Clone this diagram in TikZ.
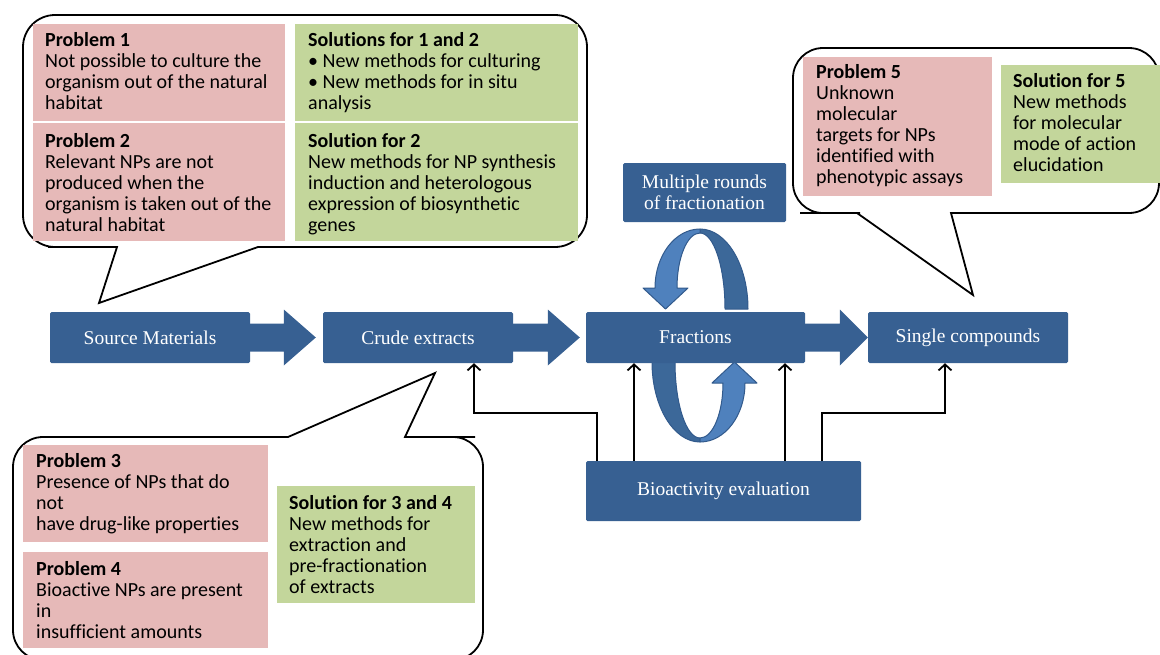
\documentclass[tikz,border=0pt]{standalone}
\usepackage{fontspec}
\setmainfont{Carlito}[Ligatures=NoCommon]
\newfontfamily\boxserif{Liberation Serif}
\usetikzlibrary{arrows.meta,calc}
\definecolor{boxblue}{HTML}{376092}
\definecolor{pinkc}{HTML}{E6B9B8}
\definecolor{greenc}{HTML}{C3D69B}
\definecolor{loopl}{HTML}{4F81BD}
\definecolor{loopd}{HTML}{3C6899}
\definecolor{loopedge}{HTML}{325A8C}
\newcommand\blockarr[4]{% source, target, gap before target, head length
  \fill[boxblue] let \p1=(#1.east), \p2=(#2.west) in
  (\x1,\y1+14pt) -- (\x2-#3-#4,\y1+14pt) -- (\x2-#3-#4,\y1+28pt) -- (\x2-#3,\y1)
  -- (\x2-#3-#4,\y1-28pt) -- (\x2-#3-#4,\y1-14pt) -- (\x1,\y1-14pt) -- cycle;}
\newcommand\roundloop{%
  \filldraw[fill=loopd, draw=loopedge, line width=1pt, line join=round]
    (748,309) arc[start angle=0, end angle=90, x radius=48pt, y radius=80pt]
    -- (700,233) arc[start angle=90, end angle=0, x radius=25pt, y radius=76pt] -- cycle;
  \filldraw[fill=loopl, draw=loopedge, line width=1pt, line join=round]
    (700,229) arc[start angle=90, end angle=180, x radius=45pt, y radius=59pt]
    -- (643,288) -- (665.5,309) -- (688,288) -- (677,288)
    arc[start angle=180, end angle=90, x radius=23pt, y radius=55pt] -- cycle;}
\begin{document}
\begin{tikzpicture}[x=1pt,y=-1pt,
  bubble/.style={draw=black, line width=1.8pt, fill=white, line join=miter},
  pinkbox/.style={fill=pinkc, inner sep=0pt, anchor=north west},
  greenbox/.style={fill=greenc, inner sep=0pt, anchor=north west},
  txt/.style={font=\fontsize{20}{21}\selectfont, align=left, anchor=north west, inner sep=0pt, text=black},
  bluebox/.style={fill=boxblue, text=white, font=\boxserif\fontsize{19.5}{21}\selectfont, inner sep=0pt, rounded corners=1.5pt, align=center},
  conn/.style={draw=black, line width=1.8pt, -{Straight Barb[length=6pt,width=13pt]}}]
\useasboundingbox (0,0) rectangle (1160,654);

% ---------- callouts ----------
\draw[bubble] (300,247) [rounded corners=32pt] -- (587,247) -- (587,15) -- (23,15) -- (23,247) -- (80,247)
  [sharp corners] -- (117,247) -- (99,303) -- (258,247) -- cycle;
\draw[bubble] (1000,213) [rounded corners=30pt] -- (1159,213) -- (1159,48) -- (793,48) -- (793,213) -- (830,213)
  [sharp corners] -- (857,213) -- (973,295) -- (951,213) -- cycle;
\draw[bubble] (200,437) [rounded corners=30pt] -- (13,437) -- (13,660) -- (483,660) -- (483,437) -- (445,437)
  [sharp corners] -- (405,437) -- (435,373) -- (288,437) -- cycle;

% ---------- problem / solution boxes ----------
\node[pinkbox, minimum width=252pt, minimum height=97pt] (p1box) at (33,24) {};
\node[pinkbox, minimum width=252pt, minimum height=118pt] (p2box) at (33,123) {};
\node[greenbox, minimum width=283pt, minimum height=97pt] (s12box) at (295,24) {};
\node[greenbox, minimum width=283pt, minimum height=118pt] (s2box) at (295,123) {};
\node[pinkbox, minimum width=189pt, minimum height=139pt] (p5box) at (803,57) {};
\node[greenbox, minimum width=159pt, minimum height=118pt] (s5box) at (1001,65) {};
\node[pinkbox, minimum width=245pt, minimum height=97pt] (p3box) at (23,445) {};
\node[pinkbox, minimum width=245pt, minimum height=96pt] (p4box) at (23,552) {};
\node[greenbox, minimum width=198pt, minimum height=117pt] (s34box) at (277,486) {};

\node[txt] (p1t) at (45,31.3) {\strut\textbf{Problem 1}\\Not possible to culture the\\organism out of the natural\\habitat};
\node[txt] (p2t) at (45,132.3) {\strut\textbf{Problem 2}\\Relevant NPs are not\\produced when the\\organism is taken out of the\\natural habitat};
\node[txt] (s12t) at (308,31.3) {\strut\textbf{Solutions for 1 and 2}\\\textbullet{} New methods for culturing\\\textbullet{} New methods for in situ\\analysis};
\node[txt] (s2t) at (308,132.3) {\strut\textbf{Solution for 2}\\New methods for NP synthesis\\induction and heterologous\\expression of biosynthetic\\genes};
\node[txt] (p5t) at (816,63.3) {\strut\textbf{Problem 5}\\Unknown\\molecular\\targets for NPs\\identified with\\phenotypic assays};
\node[txt] (s5t) at (1013,72.3) {\strut\textbf{Solution for 5}\\New methods\\for molecular\\mode of action\\elucidation};
\node[txt] (p3t) at (36,452.3) {\strut\textbf{Problem 3}\\Presence of NPs that do\\not\\have drug-like properties};
\node[txt] (p4t) at (36,560.3) {\strut\textbf{Problem 4}\\Bioactive NPs are present\\in\\insufficient amounts};
\node[txt] (s34t) at (289,494.3) {\strut\textbf{Solution for 3 and 4}\\New methods for\\extraction and\\pre-fractionation\\of extracts};

% ---------- circular arrows ----------
\roundloop
\begin{scope}[rotate around={180:(700,335.5)}]
\roundloop
\end{scope}

% ---------- main boxes ----------
\node[bluebox, minimum width=200pt, minimum height=51pt] (src) at (150,337.5) {Source Materials};
\node[bluebox, minimum width=190pt, minimum height=51pt] (crude) at (418,337.5) {Crude extracts};
\node[bluebox, minimum width=219pt, minimum height=51pt] (frac) at (695.5,337.5) {Fractions};
\node[bluebox, minimum width=200pt, minimum height=51pt] (single) at (968,337.5) {Single compounds};
\node[bluebox, minimum width=275pt, minimum height=60pt] (bio) at (723.5,491) {Bioactivity evaluation};
\node[bluebox, minimum width=163pt, minimum height=59pt] (multi) at (704.5,192.5) {Multiple rounds\\of fractionation};

\blockarr{src}{crude}{7pt}{32pt}
\blockarr{crude}{frac}{6pt}{32pt}
\blockarr{frac}{single}{0pt}{28pt}

% ---------- connectors ----------
\coordinate (k1) at (474,413);
\coordinate (k1b) at (597,413);
\coordinate (k2) at (634,0);
\coordinate (k3) at (785,0);
\coordinate (k4) at (822,413);
\coordinate (k4b) at (945,413);
\draw[conn] (bio.north -| k1b) -- (k1b) -- (k1) -- (crude.south -| k1);
\draw[conn] (bio.north -| k2) -- (frac.south -| k2);
\draw[conn] (bio.north -| k3) -- (frac.south -| k3);
\draw[conn] (bio.north -| k4) -- (k4) -- (k4b) -- (single.south -| k4b);
\end{tikzpicture}
\end{document}
